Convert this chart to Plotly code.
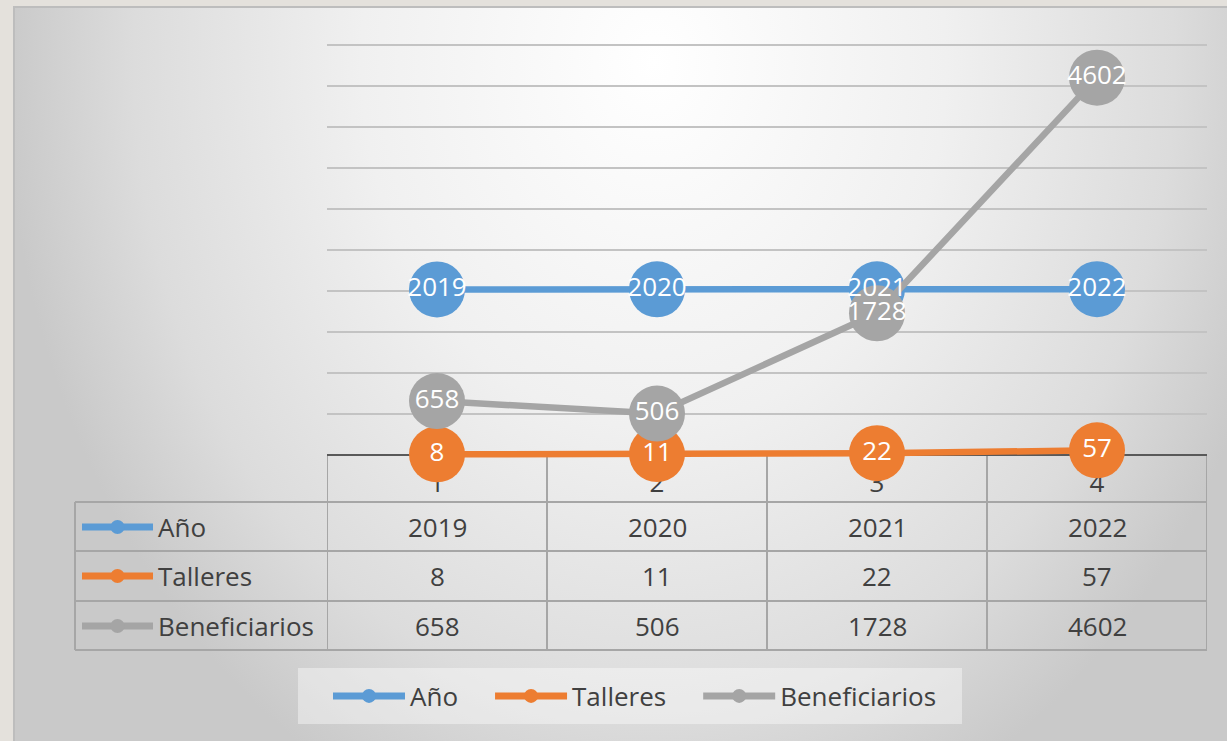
import base64
import plotly.graph_objects as go

# ---------------- data ----------------
categories = [1, 2, 3, 4]
anio = [2019, 2020, 2021, 2022]
talleres = [8, 11, 22, 57]
beneficiarios = [658, 506, 1728, 4602]
series_names = ["Año", "Talleres", "Beneficiarios"]
series_values = [anio, talleres, beneficiarios]
series_colors = ["#5B9BD5", "#ED7D31", "#A5A5A5"]
grid_values = list(range(500, 5001, 500))

# ---------------- geometry helpers (pixels -> paper) ----------------
W, H = 1227, 741
def px(x):
    return x / W
def py(y):
    return 1 - y / H

PLOT_L, PLOT_R, PLOT_T, PLOT_B = 327, 1207, 45, 455   # PLOT_B = pixel of value 0, PLOT_T = pixel of 5000
Y_MAX = 5000
def ydata(pix):
    return (PLOT_B - pix) * Y_MAX / (PLOT_B - PLOT_T)
TOP_PIX = 40          # axis domain extends slightly above the 5000 gridline
BOT_PIX = 502         # ...and down over the category row of the table

FONT = "Open Sans"
TXT = "#404040"
FS = 26

fig = go.Figure()

# category row of the data table (drawn first so markers cover it)
fig.add_trace(go.Scatter(
    x=categories, y=[ydata(485)] * len(categories), mode="text",
    text=[str(c) for c in categories],
    textfont=dict(family=FONT, size=FS, color=TXT),
    cliponaxis=False, showlegend=False, hoverinfo="skip"))

# lines + markers
for name, vals, col in zip(series_names, series_values, series_colors):
    fig.add_trace(go.Scatter(
        x=categories, y=vals, mode="lines+markers", name=name,
        line=dict(color=col, width=6.5),
        marker=dict(color=col, size=56, line=dict(width=0)),
        cliponaxis=False, showlegend=False, legendgroup=name))

# data labels on top
for name, vals in zip(series_names, series_values):
    fig.add_trace(go.Scatter(
        x=categories, y=vals, mode="text", text=[str(v) for v in vals],
        textposition="middle center",
        textfont=dict(family=FONT, size=FS, color="white"),
        cliponaxis=False, showlegend=False, hoverinfo="skip", legendgroup=name))

# legend entries (trailing no-break spaces widen the gap between entries)
pad = "\u00a0" * 4
legend_labels = [series_names[0] + pad, series_names[1] + pad, series_names[2]]
for lbl, name, col in zip(legend_labels, series_names, series_colors):
    fig.add_trace(go.Scatter(
        x=[None], y=[None], mode="lines+markers", name=lbl,
        line=dict(color=col, width=7), marker=dict(color=col, size=14),
        legendgroup=name, showlegend=True))

# ---------------- background gradient ----------------
svg = (
    '<svg xmlns="http://www.w3.org/2000/svg" width="1213" height="734" viewBox="0 0 1213 734">'
    '<defs><radialGradient id="g" gradientUnits="userSpaceOnUse" cx="640" cy="55" r="650" '
    'gradientTransform="translate(640,55) scale(1,1.25) translate(-640,-55)">'
    '<stop offset="0" stop-color="#ffffff"/><stop offset="0.45" stop-color="#f0f0f0"/>'
    '<stop offset="0.8" stop-color="#dcdcdc"/><stop offset="1" stop-color="#c9c9c9"/>'
    '</radialGradient></defs><rect x="0" y="0" width="1213" height="734" fill="url(#g)"/></svg>'
)
src = "data:image/svg+xml;base64," + base64.b64encode(svg.encode()).decode()

shapes = []
# frame edge
shapes.append(dict(type="rect", xref="paper", yref="paper", x0=px(14), x1=px(1240), y0=py(7), y1=py(760),
                   line=dict(color="#bdbdbd", width=2), fillcolor="rgba(0,0,0,0)", layer="below"))

# ---------------- data table ----------------
GRID = "#a6a6a6"
row_lines = [502, 551, 601, 650]
for yl in row_lines:
    shapes.append(dict(type="line", xref="paper", yref="paper", x0=px(75), x1=px(PLOT_R),
                       y0=py(yl), y1=py(yl), line=dict(color=GRID, width=2), layer="below"))
shapes.append(dict(type="line", xref="paper", yref="paper", x0=px(75), x1=px(75),
                   y0=py(502), y1=py(650), line=dict(color=GRID, width=2), layer="below"))
for i in range(len(categories) + 1):
    xb = categories[0] - 0.5 + i
    shapes.append(dict(type="line", xref="x", yref="paper", x0=xb, x1=xb,
                       y0=py(PLOT_B), y1=py(650), line=dict(color=GRID, width=2), layer="below"))
shapes.append(dict(type="line", xref="paper", yref="paper", x0=px(PLOT_L), x1=px(PLOT_R),
                   y0=py(PLOT_B), y1=py(PLOT_B), line=dict(color="#595959", width=2), layer="below"))

annotations = []
row_centers = [527, 576, 626]
for name, vals, col, yc in zip(series_names, series_values, series_colors, row_centers):
    shapes.append(dict(type="line", xref="paper", yref="paper", x0=px(82), x1=px(153),
                       y0=py(yc), y1=py(yc), line=dict(color=col, width=7), layer="above"))
    shapes.append(dict(type="circle", xref="paper", yref="paper", x0=px(117.5 - 7), x1=px(117.5 + 7),
                       y0=py(yc - 7), y1=py(yc + 7), fillcolor=col, line=dict(width=0), layer="above"))
    annotations.append(dict(text=name, xref="paper", yref="paper", x=px(156), y=py(yc),
                            xanchor="left", yanchor="middle", showarrow=False,
                            font=dict(family=FONT, size=FS, color=TXT)))
    for c, v in zip(categories, vals):
        annotations.append(dict(text=str(v), xref="x", yref="paper", x=c, y=py(yc),
                                xanchor="center", yanchor="middle", showarrow=False,
                                font=dict(family=FONT, size=FS, color=TXT)))

# legend background box
shapes.append(dict(type="rect", xref="paper", yref="paper", x0=px(298), x1=px(962), y0=py(668), y1=py(724),
                   fillcolor="rgba(255,255,255,0.4)", line=dict(width=0), layer="below"))

fig.update_layout(
    width=W, height=H, margin=dict(l=0, r=0, t=0, b=0),
    paper_bgcolor="#e4e1dc", plot_bgcolor="rgba(0,0,0,0)",
    images=[dict(source=src, xref="paper", yref="paper", x=px(14), y=py(7),
                 sizex=px(1227) - px(14), sizey=py(7) - py(741), xanchor="left", yanchor="top",
                 sizing="stretch", layer="below")],
    shapes=shapes, annotations=annotations,
    xaxis=dict(domain=[px(PLOT_L), px(PLOT_R)], range=[0.5, 4.5], showgrid=False,
               showticklabels=False, zeroline=False, showline=False, fixedrange=True),
    yaxis=dict(domain=[py(BOT_PIX), py(TOP_PIX)], range=[ydata(BOT_PIX), ydata(TOP_PIX)],
               tickmode="array", tickvals=grid_values, showgrid=True,
               gridcolor="#c3c3c3", gridwidth=2, showticklabels=False, zeroline=False,
               showline=False, fixedrange=True),
    showlegend=True,
    legend=dict(orientation="h", x=px(328), xanchor="left", y=py(696), yanchor="middle",
                bgcolor="rgba(0,0,0,0)", itemwidth=72, font=dict(family=FONT, size=FS, color=TXT),
                itemclick=False, itemdoubleclick=False),
    hovermode=False,
)

fig.write_html("out.html", config={"displayModeBar": False},
               post_script="document.body.style.margin='0';")
